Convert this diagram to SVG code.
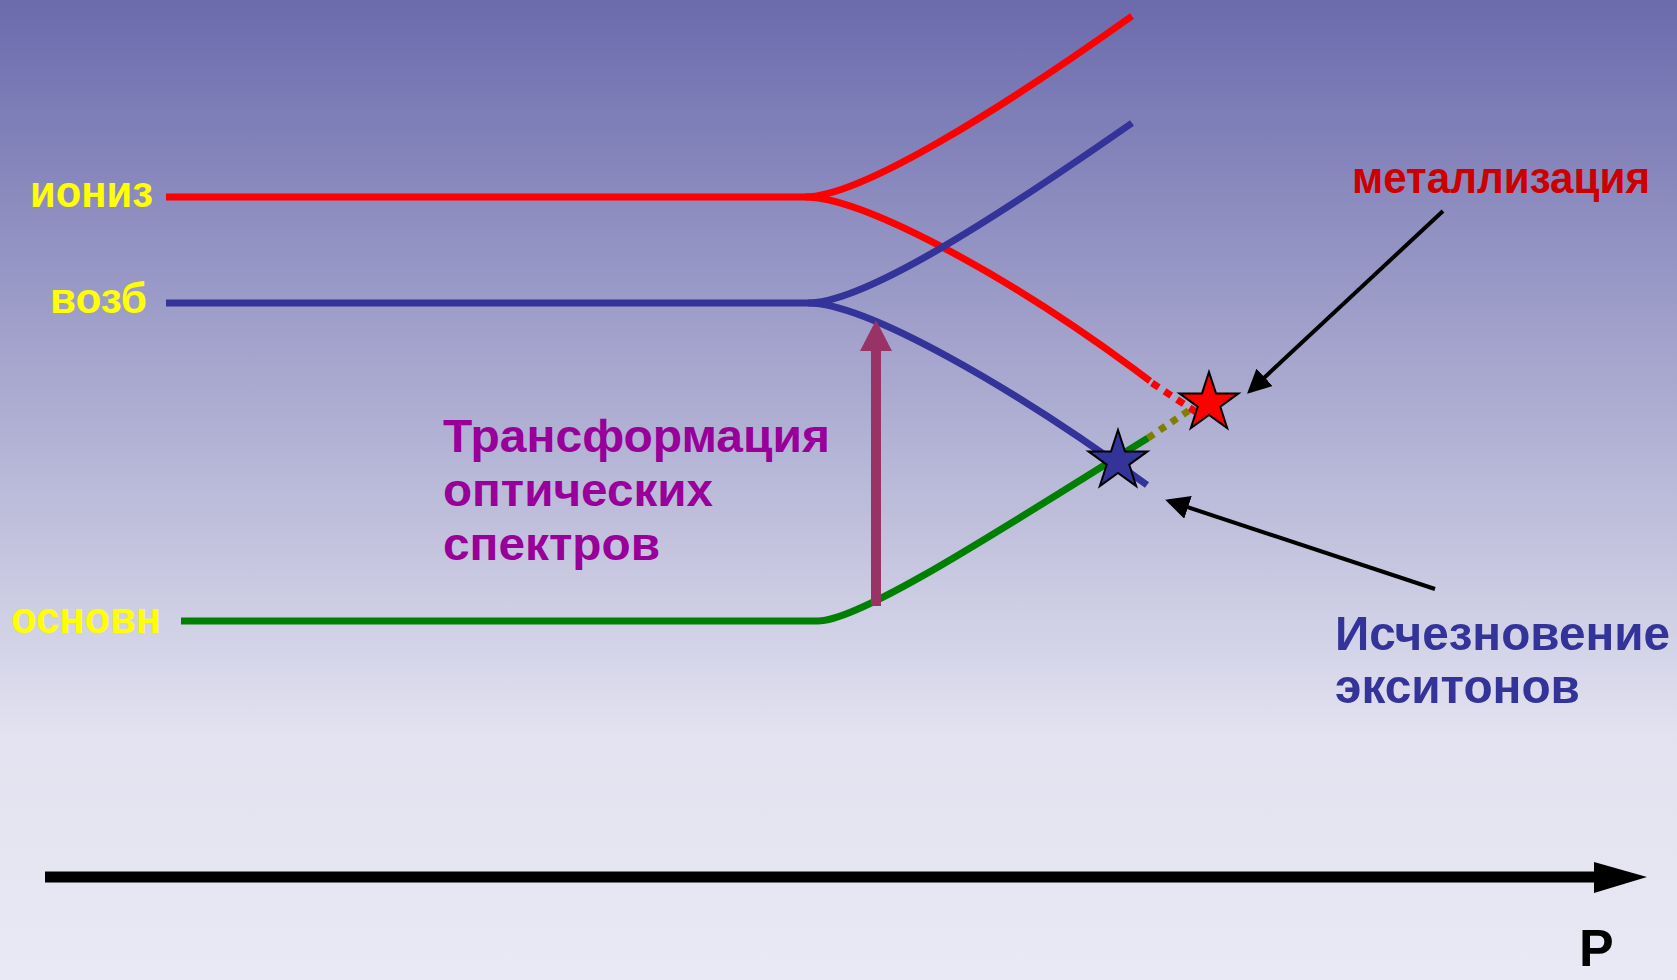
<svg xmlns="http://www.w3.org/2000/svg" width="1677" height="980" viewBox="0 0 1677 980">
<defs>
<linearGradient id="bg" x1="0" y1="0" x2="0" y2="1">
<stop offset="0" stop-color="#6B6BAD"/>
<stop offset="0.75" stop-color="#E2E2F0"/>
<stop offset="1" stop-color="#E9E9F5"/>
</linearGradient>
<marker id="ah" markerWidth="6" markerHeight="6" refX="5" refY="3" orient="auto" markerUnits="strokeWidth">
<path d="M0,0 L6,3 L0,6 Z" fill="#000"/>
</marker>
<polygon id="star" points="0,-31 7.0,-9.6 29.5,-9.6 11.3,3.7 18.2,25.1 0,11.9 -18.2,25.1 -11.3,3.7 -29.5,-9.6 -7.0,-9.6"/>
</defs>
<style>
.lbl{font-family:"Liberation Sans",Arial,sans-serif;font-weight:bold}
.lvl{fill:none;stroke-width:7}
.red{stroke:#FF0000}
.blue{stroke:#333399}
.green{stroke:#008000}
</style>
<rect width="1677" height="980" fill="url(#bg)"/>
<g id="connectors">
<path class="lvl red" d="M166 197 H805 C860 197 1000 110 1132 16"/>
<path class="lvl red" d="M805 197 C860 197 1000 270 1134 369 L1150 381"/>
<path class="lvl red" d="M1152 383 L1196 412" stroke-dasharray="8 7"/>
<path class="lvl blue" d="M166 303 H808 C865 303 1000 215 1132 123"/>
<path class="lvl blue" d="M808 303 C865 303 1010 385 1147 485"/>
<path class="lvl green" d="M181 621 H818 C860 621 1000 530 1148 438"/>
<path class="lvl" stroke="#808000" d="M1148 438 L1194 407" stroke-dasharray="7 7"/>
<g id="transition-arrow">
<line x1="876" y1="606" x2="876" y2="348" stroke="#993366" stroke-width="10"/>
<polygon points="876,320 892,351 860,351" fill="#993366"/>
</g>
<g id="p-axis">
<line x1="45" y1="877" x2="1600" y2="877" stroke="#000" stroke-width="11"/>
<polygon points="1594,862 1647,877 1594,893" fill="#000"/>
</g>
<line x1="1443" y1="211" x2="1250" y2="391" stroke="#000" stroke-width="4" marker-end="url(#ah)"/>
<line x1="1435" y1="589" x2="1169" y2="501" stroke="#000" stroke-width="4" marker-end="url(#ah)"/>
</g>
<g id="star-metal"><use href="#star" x="1209" y="403" fill="#FF0000" stroke="#000" stroke-width="2"/></g>
<g id="star-exciton"><use href="#star" x="1118" y="461" fill="#333399" stroke="#000" stroke-width="2"/></g>
<g id="label-ioniz"><text class="lbl" x="30" y="207" font-size="44" fill="#FFFF00" textLength="123" lengthAdjust="spacingAndGlyphs">иониз</text></g>
<g id="label-vozb"><text class="lbl" x="50" y="313" font-size="43" fill="#FFFF00" textLength="97" lengthAdjust="spacingAndGlyphs">возб</text></g>
<g id="label-osnovn"><text class="lbl" x="11" y="633" font-size="44" fill="#FFFF00" textLength="150" lengthAdjust="spacingAndGlyphs">основн</text></g>
<g id="label-transform">
<text class="lbl" x="443" y="452" font-size="47" fill="#990099" textLength="387" lengthAdjust="spacingAndGlyphs">Трансформация</text>
<text class="lbl" x="443" y="506" font-size="47" fill="#990099" textLength="270" lengthAdjust="spacingAndGlyphs">оптических</text>
<text class="lbl" x="443" y="560" font-size="47" fill="#990099" textLength="217" lengthAdjust="spacingAndGlyphs">спектров</text>
</g>
<g id="label-metal"><text class="lbl" x="1352" y="193" font-size="44" fill="#CC0000" textLength="298" lengthAdjust="spacingAndGlyphs">металлизация</text></g>
<g id="label-exciton">
<text class="lbl" x="1335" y="650" font-size="49" fill="#333399" textLength="335" lengthAdjust="spacingAndGlyphs">Исчезновение</text>
<text class="lbl" x="1335" y="703" font-size="49" fill="#333399" textLength="245" lengthAdjust="spacingAndGlyphs">экситонов</text>
</g>
<g id="label-p"><text class="lbl" x="1579" y="966" font-size="52" fill="#000">P</text></g>
</svg>
